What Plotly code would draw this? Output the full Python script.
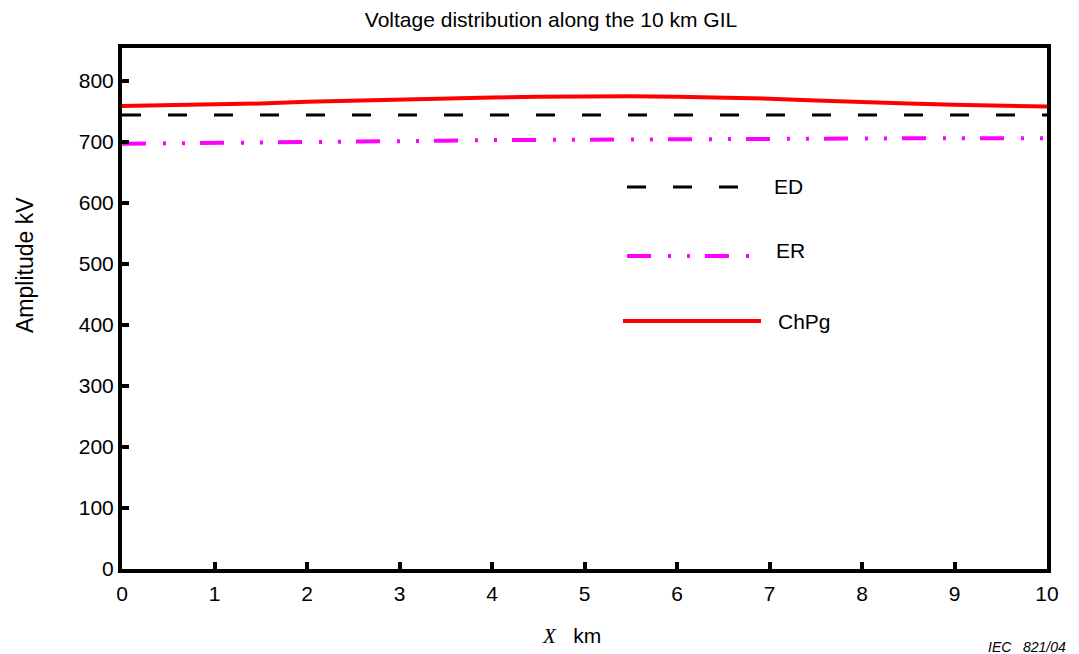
import plotly.graph_objects as go

# ---- data ----
x_km = [0, 0.5, 1, 1.5, 2, 2.5, 3, 3.5, 4, 4.5, 5, 5.5, 6, 6.5, 7, 7.5, 8, 8.5, 9, 9.5, 10]
chpg = [759, 760, 761, 763, 766, 768, 770, 771, 773, 774, 775, 775, 774, 773, 771, 768, 765, 763, 761, 759, 758]
ed = [744] * len(x_km)
er = [697, 697.5, 698, 699, 700, 700.5, 701, 702, 703, 703.5, 704, 704.5, 705, 705, 705, 705.5, 706, 706, 706, 706, 706]

x_ticks = [0, 1, 2, 3, 4, 5, 6, 7, 8, 9, 10]
y_ticks = [0, 100, 200, 300, 400, 500, 600, 700, 800]

FONT = "Liberation Sans, Arial, sans-serif"
FS = 21
ER_DASH = "24px,17px,3px,16px,3px,15px"
ED_DASH = "19px,27px"

fig = go.Figure()
fig.add_trace(go.Scatter(x=x_km, y=ed, mode="lines", name="ED",
                         line=dict(color="black", width=3, dash=ED_DASH)))
fig.add_trace(go.Scatter(x=x_km, y=er, mode="lines", name="ER",
                         line=dict(color="#ff00ff", width=4, dash=ER_DASH)))
fig.add_trace(go.Scatter(x=x_km, y=chpg, mode="lines", name="ChPg",
                         line=dict(color="#ff0000", width=4)))

# page body adds an 8px offset; size the figure to fill the rest of the window
OFF = 8
W, H = 1071, 646
L, R, T, B = 114, 32, 40, 85
pw, ph = W - L - R, H - T - B
def px(xs):  # screenshot x -> paper x
    return (xs - OFF - L) / pw
def py(ys):  # screenshot y -> paper y
    return (OFF + H - B - ys) / ph

legend_items = [
    ("ED", "black", 3, ED_DASH, 627, 740, 187, 772, 187),
    ("ER", "#ff00ff", 4, ER_DASH, 627, 751, 256, 774, 250),
    ("ChPg", "#ff0000", 4, "solid", 623, 761, 321, 776, 321),
]
for name, col, wd, dash, x0, x1, yl, xt, yt in legend_items:
    fig.add_shape(type="line", xref="paper", yref="paper",
                  x0=px(x0), x1=px(x1), y0=py(yl), y1=py(yl),
                  line=dict(color=col, width=wd, dash=dash))
    fig.add_annotation(text=name, xref="paper", yref="paper", x=px(xt), y=py(yt),
                       xanchor="left", yanchor="middle", showarrow=False,
                       font=dict(family=FONT, size=FS, color="black"))

fig.add_annotation(text="Amplitude kV", xref="paper", yref="paper",
                   x=px(25), y=py(265), textangle=-90, showarrow=False,
                   xanchor="center", yanchor="middle",
                   font=dict(family=FONT, size=23, color="black"))
fig.add_annotation(text="<span style='font-family:Liberation Serif, Times New Roman, serif'><i>X</i></span>   km",
                   xref="paper", yref="paper", x=px(571), y=py(636), showarrow=False,
                   xanchor="center", yanchor="middle",
                   font=dict(family=FONT, size=FS, color="black"))
fig.add_annotation(text="<i>IEC   821/04</i>", xref="paper", yref="paper",
                   x=px(1068), y=py(647), showarrow=False,
                   xanchor="right", yanchor="middle",
                   font=dict(family=FONT, size=14, color="black"))

fig.update_layout(
    width=W, height=H,
    margin=dict(l=L, r=R, t=T, b=B),
    paper_bgcolor="white", plot_bgcolor="white",
    showlegend=False,
    title=dict(text="Voltage distribution along the 10 km GIL", x=(551 - OFF) / W, xanchor="center",
               y=1 - (20 - OFF) / H, yanchor="middle",
               font=dict(family=FONT, size=FS, color="black")),
    font=dict(family=FONT, size=FS, color="black"),
)
fig.update_xaxes(range=[0, 10], tickvals=x_ticks, ticktext=[str(v) for v in x_ticks],
                 showgrid=False, zeroline=False, showline=True, linewidth=4, linecolor="black",
                 mirror=True, ticks="inside", ticklen=7, tickwidth=4, tickcolor="black",
                 ticklabelstandoff=3,
                 tickfont=dict(family=FONT, size=FS, color="black"))
fig.update_yaxes(range=[0, 854], tickvals=y_ticks, ticktext=[str(v) for v in y_ticks],
                 showgrid=False, zeroline=False, showline=True, linewidth=4, linecolor="black",
                 mirror=True, ticks="inside", ticklen=7, tickwidth=4, tickcolor="black",
                 ticklabelstandoff=0,
                 tickfont=dict(family=FONT, size=FS, color="black"))

fig.write_html("out.html")
